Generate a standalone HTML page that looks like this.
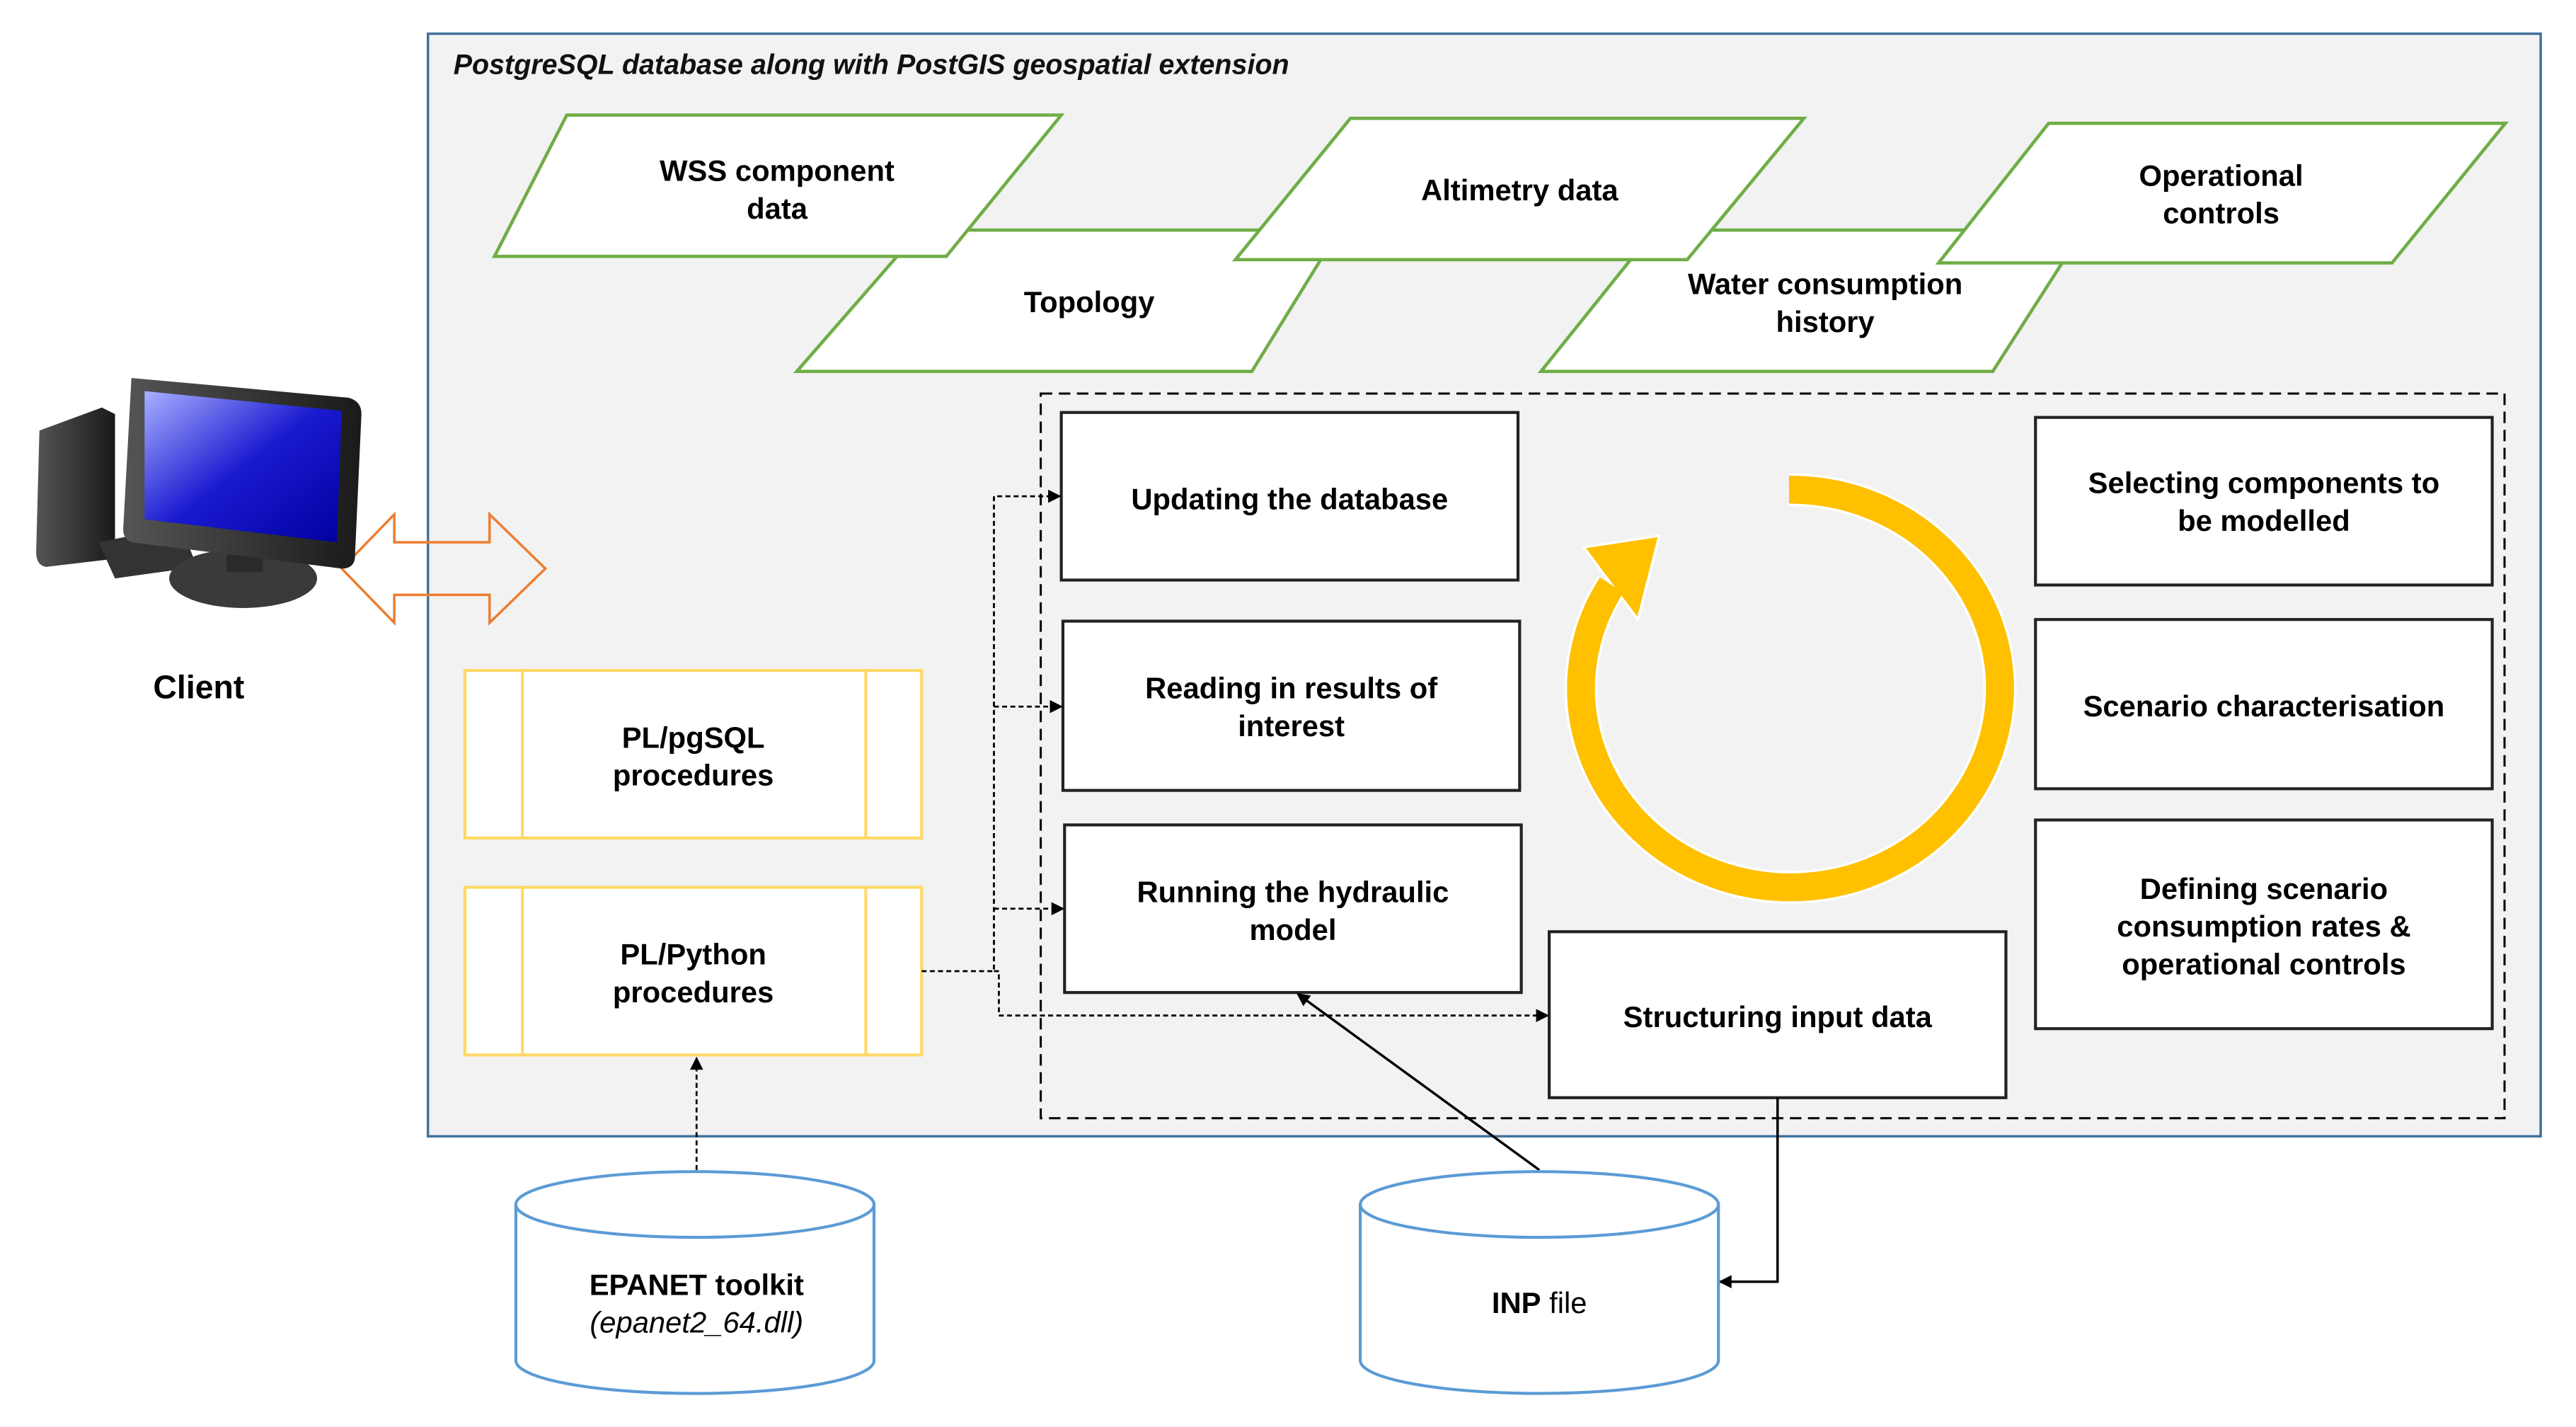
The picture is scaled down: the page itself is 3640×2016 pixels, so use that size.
<!DOCTYPE html>
<html><head><meta charset="utf-8"><style>html,body{margin:0;padding:0;background:#fff}svg{display:block}text{font-family:"Liberation Sans",Arial,sans-serif}</style></head>
<body>
<svg width="3640" height="2016" viewBox="0 0 1568 868.4" xmlns="http://www.w3.org/2000/svg">
<defs>
<marker id="ah" markerWidth="8" markerHeight="8" refX="7" refY="4" orient="auto" markerUnits="userSpaceOnUse"><path d="M0,0 L8,4 L0,8 z" fill="#000"/></marker>
<linearGradient id="scr" x1="0" y1="0" x2="1" y2="1"><stop offset="0" stop-color="#a8b0ff"/><stop offset="0.5" stop-color="#1a1ad0"/><stop offset="1" stop-color="#0000a0"/></linearGradient>
<linearGradient id="bz" x1="0" y1="0" x2="1" y2="0"><stop offset="0" stop-color="#555"/><stop offset="1" stop-color="#1a1a1a"/></linearGradient>
</defs>
<rect width="1568" height="869" fill="#fff"/>
<rect x="260.5" y="20.5" width="1286" height="671" fill="#f2f2f2" stroke="#41719c" stroke-width="1.5"/>
<text x="276" y="45" font-size="17" font-style="italic" font-weight="bold" fill="#111">PostgreSQL database along with PostGIS geospatial extension</text>
<g fill="#fff" stroke="#70ad47" stroke-width="2">
<polygon points="560,140 815,140 762,226 485,226"/>
<polygon points="345,70 646,70 576,156 301,156"/>
<polygon points="1007,140 1268,140 1213,226 938,226"/>
<polygon points="822,72 1098,72 1027,158 752,158"/>
<polygon points="1247,75 1525,75 1456,160 1180,160"/>
</g>
<g font-size="18" font-weight="bold" fill="#000" text-anchor="middle">
<text x="473" y="110">WSS component</text><text x="473" y="133">data</text>
<text x="663" y="190">Topology</text>
<text x="925" y="122">Altimetry data</text>
<text x="1111" y="179">Water consumption</text><text x="1111" y="202">history</text>
<text x="1352" y="113">Operational</text><text x="1352" y="136">controls</text>
</g>
<rect x="633.5" y="239.5" width="891" height="441" fill="none" stroke="#000" stroke-width="1.3" stroke-dasharray="7,4"/>
<g fill="#fff" stroke="#222" stroke-width="1.8">
<rect x="646" y="251" width="278" height="102"/>
<rect x="647" y="378" width="278" height="103"/>
<rect x="648" y="502" width="278" height="102"/>
<rect x="943" y="567" width="278" height="101"/>
<rect x="1239" y="254" width="278" height="102"/>
<rect x="1239" y="377" width="278" height="103"/>
<rect x="1239" y="499" width="278" height="127"/>
</g>
<g font-size="18" font-weight="bold" fill="#000" text-anchor="middle">
<text x="785" y="310">Updating the database</text>
<text x="786" y="425">Reading in results of</text><text x="786" y="448">interest</text>
<text x="787" y="549">Running the hydraulic</text><text x="787" y="572">model</text>
<text x="1082" y="625">Structuring input data</text>
<text x="1378" y="300">Selecting components to</text><text x="1378" y="323">be modelled</text>
<text x="1378" y="436">Scenario characterisation</text>
<text x="1378" y="547">Defining scenario</text><text x="1378" y="570">consumption rates &amp;</text><text x="1378" y="593">operational controls</text>
</g>
<path d="M1089,298 A127.5,121 0 1 1 981,356" fill="none" stroke="#fff" stroke-width="20"/>
<polygon points="964,333 1010,326 997,377" fill="#ffc000" stroke="#fff" stroke-width="1.5"/>
<path d="M1089,298 A127.5,121 0 1 1 981,356" fill="none" stroke="#ffc000" stroke-width="17"/>
<polygon points="967,335 1008,328 996,374 987,361 976,348" fill="#ffc000"/>
<g fill="#fff" stroke="#ffd966" stroke-width="1.8">
<rect x="283" y="408" width="278" height="102"/><line x1="318" y1="408" x2="318" y2="510"/><line x1="527" y1="408" x2="527" y2="510"/>
<rect x="283" y="540" width="278" height="102"/><line x1="318" y1="540" x2="318" y2="642"/><line x1="527" y1="540" x2="527" y2="642"/>
</g>
<g font-size="18" font-weight="bold" fill="#000" text-anchor="middle">
<text x="422" y="455">PL/pgSQL</text><text x="422" y="478">procedures</text>
<text x="422" y="587">PL/Python</text><text x="422" y="610">procedures</text>
</g>
<g fill="none" stroke="#000" stroke-width="1.2" stroke-dasharray="3,2">
<polyline points="561,591 605,591 605,302 645,302" marker-end="url(#ah)"/>
<line x1="605" y1="430" x2="646" y2="430" marker-end="url(#ah)"/>
<line x1="605" y1="553" x2="647" y2="553" marker-end="url(#ah)"/>
<polyline points="605,591 608,591 608,618 942,618" marker-end="url(#ah)"/>
<line x1="424" y1="712" x2="424" y2="644" marker-end="url(#ah)"/>
</g>
<g fill="none" stroke="#000" stroke-width="1.5">
<line x1="937" y1="712" x2="790" y2="605" marker-end="url(#ah)"/>
<polyline points="1082,668 1082,780 1047,780" marker-end="url(#ah)"/>
</g>
<g fill="#fff" stroke="#5b9bd5" stroke-width="1.8">
<path d="M314,733 L314,828 A109,20 0 0 0 532,828 L532,733"/>
<ellipse cx="423" cy="733" rx="109" ry="20"/>
<path d="M828,733 L828,828 A109,20 0 0 0 1046,828 L1046,733"/>
<ellipse cx="937" cy="733" rx="109" ry="20"/>
</g>
<g font-size="18" fill="#000" text-anchor="middle">
<text x="424" y="788" font-weight="bold">EPANET toolkit</text>
<text x="424" y="811" font-style="italic">(epanet2_64.dll)</text>
<text x="937" y="799"><tspan font-weight="bold">INP</tspan> file</text>
</g>
<polygon points="208,346 240,313 240,330 298,330 298,313 332,346 298,379 298,362 240,362 240,379" fill="none" stroke="#ed7d31" stroke-width="1.5"/>
<g>
<path d="M24,262 L62,248 L70,252 L70,340 L28,345 Q22,344 22,336 Z" fill="url(#bz)"/>
<path d="M60,330 L110,320 L120,345 L70,352 Z" fill="#333"/>
<ellipse cx="148" cy="352" rx="45" ry="18" fill="#3a3a3a"/>
<rect x="138" y="320" width="22" height="28" fill="#2a2a2a"/>
<path d="M80,230 L212,242 Q220,244 220,252 L216,340 Q215,346 208,346 L80,330 Q75,328 75,322 Z" fill="url(#bz)"/>
<path d="M88,238 L208,250 L205,330 L88,316 Z" fill="url(#scr)"/>
</g>
<text x="121" y="425" font-size="20" font-weight="bold" text-anchor="middle" fill="#000">Client</text>
</svg>
</body></html>
